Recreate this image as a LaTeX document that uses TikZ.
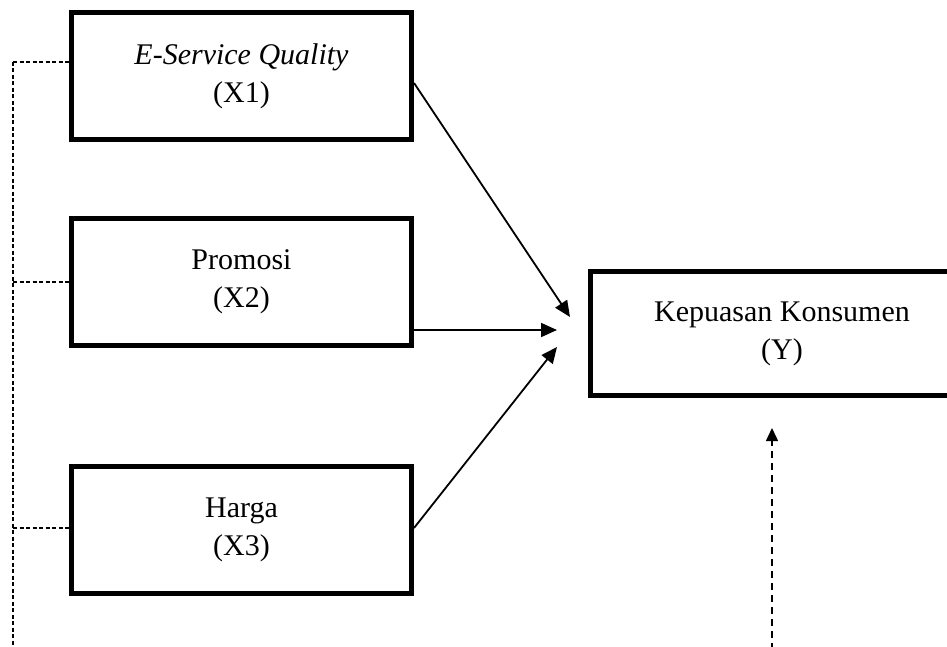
\documentclass[tikz,border=0pt]{standalone}
\usepackage{fontspec}
\setmainfont{Liberation Serif}
\usetikzlibrary{arrows.meta}
\begin{document}
\begin{tikzpicture}[x=1pt,y=-1pt,
  varbox/.style={draw=black,line width=5pt,rectangle,inner sep=0pt,
    minimum width=340pt,minimum height=127pt,align=center,
    font=\fontsize{30}{38}\selectfont},
  arr/.style={line width=1.8pt,-{Triangle[length=16pt,width=14pt]}},
  dashlink/.style={line width=1.4pt,dash pattern=on 4pt off 2.5pt},
  dasharr/.style={line width=1.4pt,dash pattern=on 7pt off 5pt,-{Triangle[length=13pt,width=12pt]}}]
\useasboundingbox (0,0) rectangle (947,647);
\clip (0,0) rectangle (947,647);
\node[varbox] (x1) at (241.5,76) {\textit{E-Service Quality}\\(X1)};
\node[varbox] (x2) at (241.5,282) {Promosi\\(X2)};
\node[varbox] (x3) at (241.5,530) {Harga\\(X3)};
\node[varbox,minimum width=383pt,minimum height=124pt] (y) at (782,333.5) {Kepuasan Konsumen\\(Y)};
% arrow start and tip points
\coordinate (s1) at (414,83);
\coordinate (s2) at (414,330);
\coordinate (s3) at (414,528);
\coordinate (t1) at (570,317);
\coordinate (t2) at (557,330);
\coordinate (t3) at (557,347);
\draw[arr] (s1) -- (t1);
\draw[arr] (s2) -- (t2);
\draw[arr] (s3) -- (t3);
% dashed links on the left
\coordinate (l1) at (13,62);
\coordinate (l2) at (13,282);
\coordinate (l3) at (13,528);
\coordinate (lb) at (13,650);
\draw[dashlink] (l1) -- (lb);
\draw[dashlink] (l1) -- (l1 -| x1.west);
\draw[dashlink] (l2) -- (l2 -| x2.west);
\draw[dashlink] (l3) -- (l3 -| x3.west);
% dashed arrow to Y
\coordinate (rb) at (772,650);
\coordinate (rt) at (772,428);
\draw[dasharr] (rb) -- (rt);
\end{tikzpicture}
\end{document}
